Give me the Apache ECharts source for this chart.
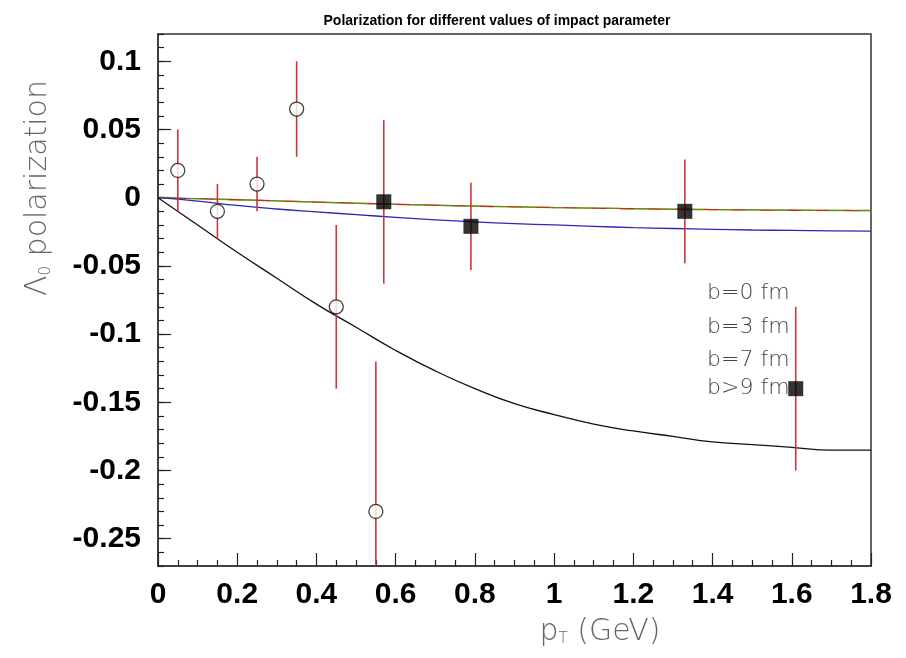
<!DOCTYPE html>
<html>
<head>
<meta charset="utf-8">
<script src="https://cdn.jsdelivr.net/npm/echarts@6/dist/echarts.min.js"></script>
<style>
  html, body { margin: 0; padding: 0; background: #fff; }
  #chart { width: 906px; height: 658px; }
</style>
</head>
<body>
<div id="chart"></div>
<script>
// Measured polarization, open circles
const openX   = [0.05, 0.15, 0.25, 0.35, 0.45, 0.55];
const openY   = [0.02, -0.01, 0.01, 0.065, -0.08, -0.23];
const openErr = [0.03, 0.02, 0.02, 0.035, 0.06, 0.11];

// Measured polarization, filled squares
const sqX   = [0.57, 0.79, 1.33, 1.61];
const sqY   = [-0.003, -0.021, -0.01, -0.14];
const sqErr = [0.06, 0.032, 0.038, 0.06];

// Model curves versus pT
const curveX   = [0, 0.1, 0.2, 0.3, 0.4, 0.5, 0.6, 0.7, 0.8, 0.9, 1.0, 1.1, 1.2, 1.3, 1.4, 1.5, 1.6, 1.7, 1.8];
const curveB0  = [0, -0.0007, -0.0014, -0.0023, -0.0032, -0.0040, -0.0048, -0.0055, -0.0061, -0.0067, -0.0072, -0.0076, -0.0080, -0.0084, -0.0087, -0.0089, -0.0091, -0.0093, -0.0094];
const curveB3  = [0, -0.0007, -0.0015, -0.0023, -0.0032, -0.0040, -0.0048, -0.0055, -0.0062, -0.0067, -0.0072, -0.0077, -0.0081, -0.0084, -0.0087, -0.0090, -0.0092, -0.0093, -0.0095];
const curveB7  = [0, -0.0008, -0.0015, -0.0024, -0.0033, -0.0041, -0.0049, -0.0056, -0.0062, -0.0068, -0.0073, -0.0077, -0.0081, -0.0085, -0.0088, -0.0090, -0.0092, -0.0094, -0.0095];
const curveBlu = [0, -0.0025, -0.0057, -0.0083, -0.0104, -0.0124, -0.0144, -0.0162, -0.0177, -0.0190, -0.0200, -0.0210, -0.0219, -0.0226, -0.0232, -0.0237, -0.0240, -0.0243, -0.0245];
const curveB9  = [0, -0.020, -0.040, -0.059, -0.078, -0.095, -0.112, -0.127, -0.140, -0.151, -0.159, -0.166, -0.171, -0.175, -0.179, -0.181, -0.183, -0.185, -0.185];

// Axis ticks
const yMajor = [-0.25, -0.2, -0.15, -0.1, -0.05, 0, 0.05, 0.1];
const legendLabels = ['b=0 fm', 'b=3 fm', 'b=7 fm', 'b>9 fm'];

const zip = (xs, ys) => xs.map((x, i) => [x, ys[i]]);
const zip3 = (xs, ys, es) => xs.map((x, i) => [x, ys[i], es[i]]);

const thinFont = '"DejaVu Sans", "Lato", sans-serif';
const boldFont = '"Liberation Sans", Arial, sans-serif';

function errorBar(params, api) {
  const x = api.value(0), y = api.value(1), e = api.value(2);
  const p1 = api.coord([x, y + e]);
  const p2 = api.coord([x, y - e]);
  return {
    type: 'line',
    shape: { x1: p1[0], y1: p1[1], x2: p2[0], y2: p2[1] },
    style: { stroke: '#cc3838', lineWidth: 1.6 }
  };
}

function curve(data, color, extra) {
  return Object.assign({
    type: 'line',
    data: data,
    showSymbol: false,
    smooth: 0.5,
    silent: true,
    lineStyle: { color: color, width: 1.3 },
    z: 2
  }, extra || {});
}

const chart = echarts.init(document.getElementById('chart'), null, { renderer: 'canvas' });

chart.setOption({
  animation: false,
  backgroundColor: '#ffffff',
  title: {
    text: 'Polarization for different values of impact parameter',
    left: 492,
    textAlign: 'center',
    top: 9,
    textStyle: { fontFamily: boldFont, fontWeight: 'bold', fontSize: 14, color: '#000' }
  },
  grid: {
    left: 158, right: 35, top: 34, bottom: 92,
    show: true, borderColor: '#333', borderWidth: 1.5, backgroundColor: '#fff'
  },
  xAxis: {
    type: 'value', min: 0, max: 1.8, interval: 0.2,
    axisLine: { onZero: false, lineStyle: { color: '#333', width: 1.5 } },
    axisTick: { inside: true, length: 13, lineStyle: { color: '#222', width: 1.2 } },
    minorTick: { show: true, splitNumber: 4, length: 6, lineStyle: { color: '#222', width: 1.2 } },
    splitLine: { show: false },
    axisLabel: { margin: 14, fontFamily: boldFont, fontWeight: 'bold', fontSize: 30, color: '#000' }
  },
  yAxis: [{
    type: 'value', min: -0.27, max: 0.12, interval: 0.01,
    axisLine: { onZero: false, lineStyle: { color: '#333', width: 1.5 } },
    axisTick: { inside: true, length: 13, customValues: yMajor, lineStyle: { color: '#222', width: 1.2 } },
    splitLine: { show: false },
    axisLabel: { margin: 17, customValues: yMajor, fontFamily: boldFont, fontWeight: 'bold', fontSize: 30, color: '#000' }
  }, {
    type: 'value', min: -0.27, max: 0.12, interval: 0.01, position: 'left',
    axisLine: { show: false, onZero: false },
    axisTick: { inside: true, length: 6, lineStyle: { color: '#222', width: 1.2 } },
    splitLine: { show: false },
    axisLabel: { show: false }
  }],
  graphic: [
    {
      type: 'text', x: 38, y: 188, rotation: Math.PI / 2,
      style: {
        text: '{a|Λ}{s|0}{a| polarization}',
        align: 'center', verticalAlign: 'middle',
        fill: '#666',
        rich: {
          a: { fontFamily: thinFont, fontWeight: 200, fontSize: 30, fill: '#666' },
          s: { fontFamily: thinFont, fontWeight: 200, fontSize: 15, fill: '#666', padding: [16, 0, 0, 0] }
        }
      }
    },
    {
      type: 'text', x: 600, y: 632,
      style: {
        text: '{a|p}{s|T}{a| (GeV)}',
        align: 'center', verticalAlign: 'middle',
        fill: '#666',
        rich: {
          a: { fontFamily: thinFont, fontWeight: 200, fontSize: 30, fill: '#666' },
          s: { fontFamily: thinFont, fontWeight: 200, fontSize: 15, fill: '#666', padding: [14, 0, 0, 0] }
        }
      }
    }
  ].concat(legendLabels.map((t, i) => ({
    type: 'text', x: 707, y: [293, 327, 360, 388][i],
    style: {
      text: t, align: 'left', verticalAlign: 'middle',
      fontFamily: thinFont, fontWeight: 200, fontSize: 22, fill: '#444'
    },
    z: 1
  }))),
  series: [
    curve(zip(curveX, curveB7), '#2ee02e'),
    curve(zip(curveX, curveB0), '#8a7a12', { lineStyle: { color: '#8a7a12', width: 1.3, type: [14, 14], dashOffset: 0 } }),
    curve(zip(curveX, curveB3), '#c8281e', { lineStyle: { color: '#c8281e', width: 1.3, type: [14, 14], dashOffset: 14 } }),
    curve(zip(curveX, curveBlu), '#2828b4'),
    curve(zip(curveX, curveB9), '#111111'),
    {
      type: 'custom', renderItem: errorBar, clip: true, z: 3, silent: true,
      data: zip3(openX, openY, openErr)
    },
    {
      type: 'custom', renderItem: errorBar, clip: true, z: 3, silent: true,
      data: zip3(sqX, sqY, sqErr)
    },
    {
      type: 'scatter', symbol: 'circle', symbolSize: 14, z: 5, silent: true,
      itemStyle: { color: '#fff', borderColor: '#111', borderWidth: 1.3 },
      data: zip(openX, openY)
    },
    {
      type: 'scatter', symbol: 'rect', symbolSize: 15, z: 5, silent: true,
      itemStyle: { color: '#000' },
      data: zip(sqX, sqY)
    }
  ]
});
</script>
</body>
</html>
